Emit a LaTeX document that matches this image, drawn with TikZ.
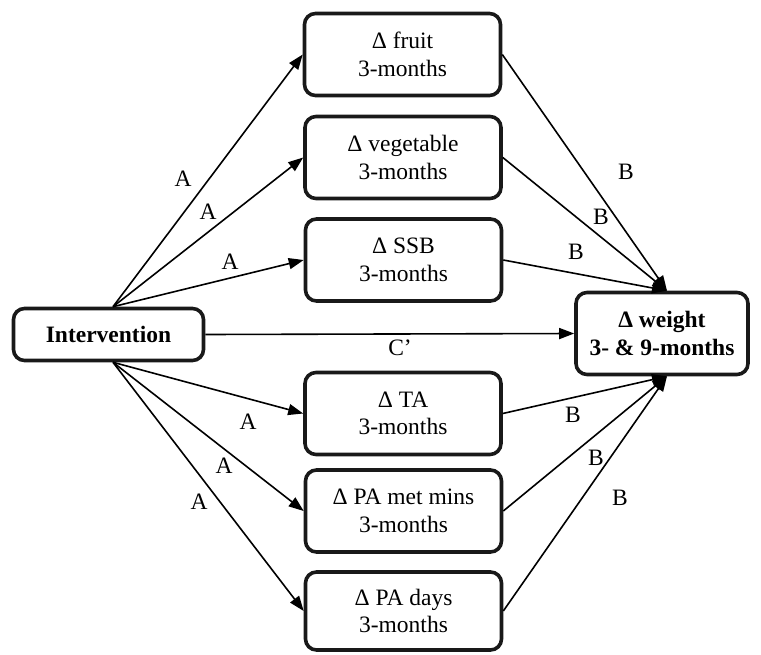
\documentclass[tikz,border=0pt]{standalone}
\usepackage{fontspec}
\setmainfont{Liberation Serif}
\usetikzlibrary{arrows.meta}
\begin{document}
\begin{tikzpicture}[x=1pt,y=-1pt,
  box/.style={draw=black!90, line width=3.6pt, rounded corners=11pt, align=center,
    font=\fontsize{23.5}{27.5}\selectfont, inner sep=0pt, minimum width=196pt, minimum height=82pt},
  bbox/.style={box, font=\fontsize{23.5}{27.5}\selectfont\bfseries},
  arr/.style={line width=1.6pt, -{Triangle[length=15pt,width=11pt]}},
  lab/.style={font=\fontsize{23.5}{26}\selectfont, inner sep=0pt}]
\useasboundingbox (0,0) rectangle (761,654);
\node[bbox, minimum width=190pt, minimum height=52pt] (int) at (108.5,334.5) {Intervention};
\node[box] (fruit) at (402.5,54.5) {Δ fruit\\3-months};
\node[box] (veg) at (403,157.5) {Δ vegetable\\3-months};
\node[box] (ssb) at (403.5,260) {Δ SSB\\3-months};
\node[box] (ta) at (403,413.5) {Δ TA\\3-months};
\node[box] (pam) at (403.5,511) {Δ PA met mins\\3-months};
\node[box, minimum height=78pt] (pad) at (403.5,611) {Δ PA days\\3-months};
\node[bbox, minimum width=172pt, minimum height=82pt] (wt) at (662,333.5) {Δ weight\\3- \& 9-months};
\coordinate (iT) at ([xshift=4.5pt]int.north);
\coordinate (iB) at ([xshift=4.5pt]int.south);
\coordinate (wT) at ([xshift=5pt]wt.north);
\coordinate (wB) at ([xshift=5pt]wt.south);
\foreach \n in {fruit,veg,ssb} { \draw[arr] (iT) -- (\n.west); \draw[arr] (\n.east) -- (wT); }
\foreach \n in {ta,pam,pad} { \draw[arr] (iB) -- (\n.west); \draw[arr] (\n.east) -- (wB); }
\draw[arr] (int.east) -- (wt.west);
\node[lab] (a1) at (183,179) {A};
\node[lab] (a2) at (208,212) {A};
\node[lab] (a3) at (230,262) {A};
\node[lab] (a4) at (248,422) {A};
\node[lab] (a5) at (224,466) {A};
\node[lab] (a6) at (199,502) {A};
\node[lab] (b1) at (626,172) {B};
\node[lab] (b2) at (601,217) {B};
\node[lab] (b3) at (576,252) {B};
\node[lab] (b4) at (573,415) {B};
\node[lab] (b5) at (596,458) {B};
\node[lab] (b6) at (620,498) {B};
\node[lab] (c) at (400,348) {C’};
\end{tikzpicture}
\end{document}
